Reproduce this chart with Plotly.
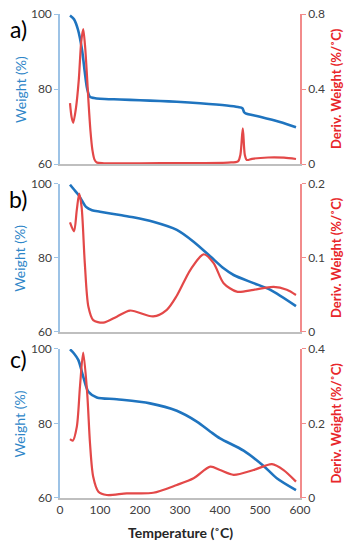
import plotly.graph_objects as go

# ---------------- data ----------------
# Panel a
a_w_T = [25, 35, 45, 55, 62, 68, 75, 85, 100, 150, 200, 250, 292, 350, 417, 445, 456, 460, 464, 500, 550, 590]
a_w = [99.6, 98.6, 95.8, 90.5, 84.5, 80.0, 77.9, 77.6, 77.4, 77.2, 77.0, 76.8, 76.6, 76.2, 75.6, 75.2, 74.9, 73.9, 73.5, 72.6, 71.2, 69.8]
a_d_T = [25, 29, 33, 40, 47, 53, 58, 63, 68, 71, 76, 81, 86, 92, 110, 200, 300, 420, 445, 451, 457, 462, 467, 480, 520, 560, 590]
a_d = [0.325, 0.25, 0.22, 0.30, 0.45, 0.65, 0.72, 0.62, 0.45, 0.34, 0.18, 0.075, 0.025, 0.008, 0.004, 0.004, 0.005, 0.008, 0.014, 0.05, 0.19, 0.05, 0.022, 0.028, 0.035, 0.034, 0.027]

# Panel b
b_w_T = [25, 35, 45, 55, 65, 80, 100, 150, 183, 233, 292, 334, 376, 409, 434, 484, 526, 590]
b_w = [99.8, 98.5, 97.2, 95.5, 93.8, 92.9, 92.5, 91.6, 91.0, 89.8, 87.6, 84.4, 80.4, 77.2, 75.4, 73.2, 71.4, 67.0]
b_d_T = [25, 35, 42, 48, 54, 62, 71, 83, 108, 142, 175, 233, 267, 292, 326, 359, 384, 409, 442, 484, 534, 567, 590]
b_d = [0.148, 0.136, 0.165, 0.187, 0.169, 0.093, 0.034, 0.016, 0.0126, 0.0207, 0.029, 0.021, 0.030, 0.049, 0.084, 0.105, 0.093, 0.066, 0.0545, 0.057, 0.061, 0.057, 0.050]

# Panel c
c_w_T = [25, 35, 46, 58, 71, 92, 142, 225, 292, 342, 376, 400, 459, 509, 542, 590]
c_w = [99.9, 98.8, 97.0, 92.6, 88.5, 87.0, 86.5, 85.4, 83.4, 80.5, 77.8, 76.0, 72.7, 68.6, 65.3, 62.1]
c_d_T = [25, 32, 42, 50, 58, 68, 75, 83, 96, 117, 167, 233, 292, 334, 376, 400, 434, 484, 530, 559, 590]
c_d = [0.158, 0.154, 0.191, 0.30, 0.39, 0.281, 0.147, 0.057, 0.017, 0.008, 0.0125, 0.014, 0.035, 0.053, 0.084, 0.075, 0.062, 0.075, 0.091, 0.075, 0.044]

x_ticks = [0, 100, 200, 300, 400, 500, 600]
w_ticks = [60, 80, 100]
a_d_ticks = [0, 0.4, 0.8]
b_d_ticks = [0, 0.1, 0.2]
c_d_ticks = [0, 0.2, 0.4]
panel_labels = ["a)", "b)", "c)"]

# ---------------- styling ----------------
BLUE = "#1F74BF"
RED = "#E34848"
FONT = "Lato"
TICKCOL = "#404040"

fig = go.Figure()

panels = [
    (a_w_T, a_w, a_d_T, a_d, a_d_ticks, [0, 0.8]),
    (b_w_T, b_w, b_d_T, b_d, b_d_ticks, [0, 0.2]),
    (c_w_T, c_w, c_d_T, c_d, c_d_ticks, [0, 0.4]),
]
domains = [[0.690, 1.0], [0.343, 0.6488], [0.0, 0.3079]]
label_y = [0.969, 0.618, 0.287]
title_y = [0.845, 0.496, 0.154]

layout = dict(
    template="none",
    width=354, height=550,
    margin=dict(l=60, r=54, t=14, b=52, autoexpand=False),
    paper_bgcolor="white", plot_bgcolor="white",
    showlegend=False,
    font=dict(family=FONT, size=12, color=TICKCOL),
)
annotations = []

for i, (wT, w, dT, d, dticks, drange) in enumerate(panels):
    xn = "" if i == 0 else str(i + 1)
    yl = str(2 * i + 1) if i > 0 else ""
    yr = str(2 * i + 2)
    fig.add_trace(go.Scatter(x=wT, y=w, mode="lines", line=dict(color=BLUE, width=2.6, shape="spline", smoothing=0.8),
                             xaxis="x" + xn, yaxis="y" + yl))
    fig.add_trace(go.Scatter(x=dT, y=d, mode="lines", line=dict(color=RED, width=2.2, shape="spline", smoothing=0.8),
                             xaxis="x" + xn, yaxis="y" + yr))
    layout["xaxis" + xn] = dict(
        domain=[0, 1], range=[0, 600], anchor="y" + yl, automargin=False,
        showline=True, linecolor="#BFBFBF", linewidth=1.5,
        showgrid=False, zeroline=False, ticks="",
        tickvals=x_ticks, showticklabels=(i == 2),
        tickfont=dict(family=FONT, size=12, color=TICKCOL),
    )
    layout["yaxis" + yl] = dict(
        domain=domains[i], range=[60, 100], anchor="x" + xn, automargin=False,
        tickvals=w_ticks, showline=True, linecolor="#9DC3E6", linewidth=1.5,
        ticks="outside", ticklen=4, tickcolor="#9DC3E6",
        showgrid=False, zeroline=False,
        tickfont=dict(family=FONT, size=12, color=TICKCOL),
    )
    layout["yaxis" + yr] = dict(
        domain=domains[i], range=drange, anchor="x" + xn, overlaying="y" + yl, side="right",
        automargin=False,
        tickvals=dticks, showline=True, linecolor="#F28B8B", linewidth=1.5,
        ticks="outside", ticklen=4, tickcolor="#F28B8B",
        showgrid=False, zeroline=False,
        tickfont=dict(family=FONT, size=12, color=TICKCOL),
    )
    annotations.append(dict(text="Weight (%)", x=-0.167, y=title_y[i], xref="paper", yref="paper",
                            textangle=-90, showarrow=False, xanchor="center", yanchor="middle",
                            font=dict(family=FONT, size=14, color="#2E86C8")))
    annotations.append(dict(text="<b>Deriv. Weight (%/˚C)</b>", x=1.15, y=title_y[i], xref="paper", yref="paper",
                            textangle=-90, showarrow=False, xanchor="center", yanchor="middle",
                            font=dict(family=FONT, size=13, color="#E8262A")))
    annotations.append(dict(text=panel_labels[i], x=-0.175, y=label_y[i], xref="paper", yref="paper",
                            showarrow=False, xanchor="center", yanchor="middle",
                            font=dict(family=FONT, size=23, color="black")))

annotations.append(dict(text="<b>Temperature (˚C)</b>", x=0.5, y=-0.0723, xref="paper", yref="paper",
                        showarrow=False, xanchor="center", yanchor="middle",
                        font=dict(family=FONT, size=14, color="#262626")))
layout["annotations"] = annotations
fig.update_layout(**layout)
# remove the browser's default 8px body margin so the 354x550 figure fills the window exactly
fig.write_html("out.html", config={"displayModeBar": False},
               post_script="document.body.style.margin='0';")
